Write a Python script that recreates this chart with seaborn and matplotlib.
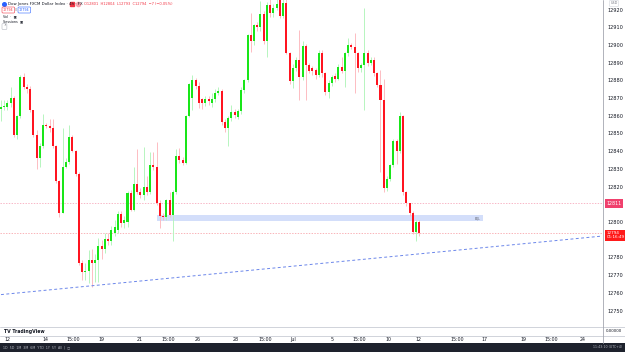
import matplotlib
matplotlib.use("Agg")
import matplotlib.pyplot as plt
import matplotlib.transforms as mtransforms
from matplotlib.patches import Rectangle
import numpy as np
import pandas as pd
import seaborn as sns

# 4h candles (oldest first)
opens = [12864, 12865, 12865, 12867, 12870, 12849, 12860, 12882, 12876, 12875,
         12863, 12849, 12836, 12843, 12855, 12854, 12853, 12843, 12823, 12805,
         12831, 12834, 12848, 12840, 12827, 12777, 12772, 12772.5, 12778.5, 12777,
         12778.5, 12786.5, 12785, 12790.5, 12789, 12794, 12795.5, 12804.5, 12799.5, 12800,
         12816.5, 12807, 12821.5, 12817, 12815, 12820, 12817, 12832, 12831, 12810.5,
         12803.5, 12803, 12812.5, 12804, 12817, 12837.5, 12835, 12833.5, 12860, 12870,
         12880, 12877, 12869.5, 12867, 12869.5, 12867, 12869.5, 12873, 12874, 12856.5,
         12853, 12859, 12862, 12859.5, 12862.5, 12874.5, 12880, 12905.5, 12902, 12911,
         12910, 12917.5, 12902, 12922.5, 12918, 12921, 12927, 12916.5, 12923.5, 12895.5,
         12879.5, 12887, 12891.5, 12882, 12899.5, 12888.5, 12887, 12886, 12883, 12895.5,
         12884, 12873.5, 12878.5, 12882.5, 12881, 12887.5, 12885.5, 12895.5, 12900, 12899,
         12895.5, 12887, 12888.5, 12895.5, 12890, 12891.5, 12884, 12877.5, 12869, 12819,
         12824.5, 12832, 12845.5, 12840, 12860, 12817, 12810.5, 12805, 12794.5, 12800]
closes = [12865, 12865.5, 12867, 12870, 12849, 12860, 12882, 12876, 12875, 12863,
          12849, 12836, 12843, 12855, 12854, 12853, 12843, 12823, 12805, 12831,
          12834, 12848, 12840, 12827, 12777, 12772, 12772.5, 12778.5, 12777, 12778.5,
          12786.5, 12785, 12790.5, 12789, 12795.5, 12797, 12804.5, 12799.5, 12801, 12816.5,
          12807, 12821.5, 12817, 12815, 12820, 12817, 12832, 12831, 12810.5, 12803.5,
          12803, 12812.5, 12804, 12817, 12837.5, 12835, 12833.5, 12860, 12878, 12880,
          12877, 12867, 12867, 12869.5, 12868.5, 12869.5, 12873, 12874, 12856.5, 12853,
          12859, 12862, 12860.5, 12862.5, 12874.5, 12880, 12905.5, 12902, 12911, 12910,
          12917.5, 12902, 12922.5, 12918, 12921, 12923, 12916.5, 12923.5, 12895.5, 12879.5,
          12887, 12891.5, 12882, 12899.5, 12888.5, 12885.5, 12885.5, 12883, 12895.5, 12884,
          12873.5, 12878.5, 12882, 12881, 12887.5, 12885.5, 12895.5, 12900, 12899, 12895.5,
          12887, 12888.5, 12895.5, 12890, 12891.5, 12884, 12877.5, 12869, 12819, 12824.5,
          12832, 12845.5, 12840, 12860, 12817, 12810.5, 12805, 12794.5, 12800, 12794]
highs = [12869, 12869, 12869, 12876, 12871, 12860.5, 12883, 12884, 12878, 12877,
         12863.5, 12852, 12844.5, 12861, 12856, 12858, 12858, 12843.5, 12823.5, 12853,
         12836, 12855, 12849, 12840.5, 12828, 12778.5, 12777, 12784, 12785, 12782,
         12791, 12790, 12794, 12794, 12798, 12801, 12806, 12806, 12803.5, 12817.5,
         12818, 12831, 12841, 12819, 12842.5, 12826, 12839.5, 12839.5, 12845, 12812.5,
         12805, 12813, 12817, 12818, 12841, 12842, 12836.5, 12860.5, 12878.5, 12883,
         12881.5, 12879, 12870, 12871, 12871, 12873, 12875, 12876, 12875, 12858,
         12860, 12866, 12864, 12864, 12876, 12881, 12906, 12918, 12912, 12913,
         12925, 12919, 12924, 12926, 12923, 12926, 12930, 12930, 12930, 12896,
         12889, 12893, 12908.5, 12902, 12900.5, 12890, 12888, 12887, 12897, 12897,
         12885, 12880, 12883, 12884, 12889, 12893, 12896, 12904, 12901, 12907,
         12896, 12890, 12921, 12897, 12893, 12893, 12885, 12886, 12881, 12826,
         12833, 12847, 12847, 12862, 12860.5, 12817.5, 12811, 12806, 12801, 12801]
lows = [12857, 12863, 12863, 12865, 12848, 12847, 12859, 12875, 12873, 12862,
        12848, 12830, 12831, 12842, 12853, 12851, 12842, 12822, 12803, 12805,
        12830.5, 12833, 12839.5, 12826, 12776, 12767, 12767, 12765.5, 12763.5, 12766,
        12766, 12779, 12782.5, 12787, 12787, 12792, 12794, 12797, 12796.5, 12797,
        12806, 12806, 12816, 12813.5, 12812.5, 12815, 12816, 12829.5, 12809.5, 12796.5,
        12801, 12801, 12803, 12789.5, 12816, 12833.5, 12832, 12833, 12859.5, 12863.5,
        12875, 12864.5, 12864, 12865.5, 12866, 12865, 12868, 12872, 12855, 12851,
        12843, 12857, 12859, 12858, 12861, 12873, 12879, 12896, 12900, 12908,
        12908, 12900.5, 12893, 12916, 12916, 12920, 12915, 12915, 12895, 12878,
        12875.5, 12885.5, 12869, 12880, 12869, 12884, 12883, 12881, 12882, 12882,
        12872, 12870, 12877, 12879, 12880, 12884, 12876, 12894, 12897.5, 12873,
        12885, 12885, 12863, 12888, 12888.5, 12882.5, 12876, 12828, 12817, 12817.5,
        12823, 12831, 12833, 12839, 12815.5, 12809, 12803.5, 12793, 12789.5, 12792]

# time axis labels (bar index, text)
tick_positions = [1.85, 13.6, 22.2, 31.1, 42.9, 51.5, 60.7, 72.5, 81.4, 90.0,
                  102.1, 110.4, 119.6, 128.6, 140.6, 149.2, 161.0, 169.6, 179.2]
tick_labels = ["12", "14", "15:00", "19", "21", "15:00", "26", "28", "15:00", "Jul",
               "5", "15:00", "10", "12", "15:00", "17", "19", "15:00", "24"]
price_ticks = [12750, 12760, 12770, 12780, 12800, 12810, 12820, 12830, 12840,
               12850, 12860, 12870, 12880, 12890, 12900, 12910, 12920]

# drawings
zone_bars = (48.1, 148.6)
zone_prices = (12800.3, 12804.0)
trend_bars = [0, 185]
trend_prices = [12759, 12792]
level_marked = 12810.5
last_price = 12793.8

GREEN = "#19e619"
RED = "#ff1420"
GREEN_WICK = "#b6f5bf"
RED_WICK = "#fdbcc2"

sns.set_theme(style="white")
plt.rcParams["font.family"] = ["DejaVu Sans"]

frame = pd.DataFrame({"open": opens, "high": highs, "low": lows, "close": closes})
frame["bar"] = np.arange(len(frame))
frame["up"] = frame["close"] >= frame["open"]

W, H = 625, 352
fig = plt.figure(figsize=(W / 100, H / 100), dpi=100)
fig.patch.set_facecolor("white")

ax = fig.add_axes([0, 25 / H, 603 / W, 327 / H])
pane = fig.add_axes([0, 16 / H, 603 / W, 9 / H], sharex=ax)
bar_ax = fig.add_axes([0, 0, 1, 9 / H])

# candles
for up, wick_col, body_col in [(True, GREEN_WICK, GREEN), (False, RED_WICK, RED)]:
    part = frame[frame["up"] == up]
    ax.vlines(part["bar"], part["low"], part["high"], color=wick_col, lw=0.7, zorder=2)
    bottoms = part[["open", "close"]].min(axis=1)
    heights = (part["close"] - part["open"]).abs().clip(lower=0.6)
    ax.bar(part["bar"], heights, bottom=bottoms, width=0.62, color=body_col,
           linewidth=0, zorder=3)

ax.add_patch(Rectangle((zone_bars[0], zone_prices[0]), zone_bars[1] - zone_bars[0],
                       zone_prices[1] - zone_prices[0], facecolor="#d3defa",
                       edgecolor="none", zorder=1))
ax.text(zone_bars[1] - 0.8, sum(zone_prices) / 2, "EQL", fontsize=2.2, color="#5d606b",
        ha="right", va="center", zorder=4)

sns.lineplot(x=trend_bars, y=trend_prices, ax=ax, color="#6b86ea", lw=0.7,
             linestyle=(0, (3, 2.5)), zorder=2)

ax.axhline(level_marked, color="#f59ab0", lw=0.5, linestyle=(0, (2, 2)), zorder=1)
ax.axhline(last_price, color="#f7959c", lw=0.5, linestyle=(0, (2, 2)), zorder=1)

ax.set_xlim(-0.31, 185.6)
ax.set_ylim(12740.7, 12925.4)
ax.yaxis.tick_right()
ax.set_yticks(price_ticks)
ax.set_yticklabels([str(p) for p in price_ticks])
ax.tick_params(axis="y", length=0, pad=3, labelsize=3.6, labelcolor="#131722")
ax.tick_params(axis="x", bottom=False, labelbottom=False)
for spine in ax.spines.values():
    spine.set_visible(False)

# price tags on the scale
tag = mtransforms.blended_transform_factory(ax.transAxes, ax.transData)
ax.text(1.006, level_marked, "12811", transform=tag, fontsize=3.4, color="white",
        ha="left", va="center", clip_on=False, zorder=6,
        bbox=dict(boxstyle="square,pad=0.35", facecolor="#f0406d", edgecolor="none"))
ax.text(1.006, last_price - 1.2, "12794\n01:16:49", transform=tag, fontsize=3.0,
        color="white", ha="left", va="center", clip_on=False, zorder=6, linespacing=1.1,
        bbox=dict(boxstyle="square,pad=0.3", facecolor="#ff1a1a", edgecolor="none"))

# lower pane
pane.set_facecolor("white")
pane.set_yticks([])
pane.set_xticks(tick_positions)
pane.set_xticklabels(tick_labels)
pane.tick_params(axis="x", length=0, pad=1.0, labelsize=3.4, labelcolor="#131722")
for spine in pane.spines.values():
    spine.set_visible(False)
pane.text(0.007, 0.5, "TV TradingView", transform=pane.transAxes, fontsize=3.3,
          color="#131722", fontweight="bold", va="center", ha="left")
fig.text(606 / W, 1 - 330.5 / H, "0.00000", fontsize=2.8, color="#131722", va="center")

# separators
sep = dict(color="#c9ccd4", lw=0.6)
fig.add_artist(plt.Line2D([0, 1], [1 - 327 / H] * 2, transform=fig.transFigure, **sep))
fig.add_artist(plt.Line2D([0, 1], [1 - 336 / H] * 2, transform=fig.transFigure, **sep))
fig.add_artist(plt.Line2D([603 / W] * 2, [9 / H, 1], transform=fig.transFigure,
                          color="#a3a6af", lw=0.6))

# bottom toolbar
bar_ax.set_facecolor("#1e222d")
bar_ax.set_xticks([])
bar_ax.set_yticks([])
for spine in bar_ax.spines.values():
    spine.set_visible(False)
bar_ax.text(0.005, 0.5, "1D  5D  1M  3M  6M  YTD  1Y  5Y  All  |  ▢", fontsize=2.3,
            color="#b2b5be", va="center", ha="left", transform=bar_ax.transAxes)
bar_ax.text(0.995, 0.5, "11:43:10 (UTC+4)", fontsize=2.3, color="#b2b5be",
            va="center", ha="right", transform=bar_ax.transAxes)

# legend header
fig.add_artist(plt.Line2D([4 / W], [1 - 4 / H], transform=fig.transFigure, marker="o",
                          markersize=2.6, color="#2962ff"))
fig.text(8 / W, 1 - 4 / H, "Dow Jones FXCM Dollar Index · 4h · FX", fontsize=2.8,
         color="#131722", va="center")
fig.add_artist(plt.Line2D([72 / W], [1 - 4 / H], transform=fig.transFigure, marker="s",
                          markersize=2.4, color="#f23645"))
fig.add_artist(plt.Line2D([78 / W], [1 - 4 / H], transform=fig.transFigure, marker="o",
                          markersize=3.0, color="#f7a6b1"))
fig.text(84 / W, 1 - 4 / H, "O12801  H12804  L12793  C12794  −7 (−0.05%)", fontsize=2.6,
         color="#f23645", va="center")
fig.text(3 / W, 1 - 10 / H, "12794", fontsize=2.4, color="#f23645", va="center",
         bbox=dict(boxstyle="round,pad=0.3", facecolor="white", edgecolor="#f23645", lw=0.4))
fig.text(14.5 / W, 1 - 10 / H, "0", fontsize=2.3, color="#787b86", va="center")
fig.text(19 / W, 1 - 10 / H, "12794", fontsize=2.4, color="#2962ff", va="center",
         bbox=dict(boxstyle="round,pad=0.3", facecolor="white", edgecolor="#2962ff", lw=0.4))
fig.text(3 / W, 1 - 16 / H, "Vol  ·  ▣", fontsize=2.4, color="#131722", va="center")
fig.text(3 / W, 1 - 21.5 / H, "Sessions  ▣", fontsize=2.4, color="#131722", va="center")
fig.text(3 / W, 1 - 26.5 / H, "⌃", fontsize=2.4, color="#131722", va="center",
         bbox=dict(boxstyle="round,pad=0.3", facecolor="white", edgecolor="#b2b5be", lw=0.4))
fig.text(614 / W, 1 - 3.5 / H, "USD", fontsize=2.4, color="#787b86", va="center", ha="center",
         bbox=dict(boxstyle="round,pad=0.3", facecolor="white", edgecolor="#d1d4dc", lw=0.4))

fig.savefig("out.png", dpi=100, facecolor="white")
